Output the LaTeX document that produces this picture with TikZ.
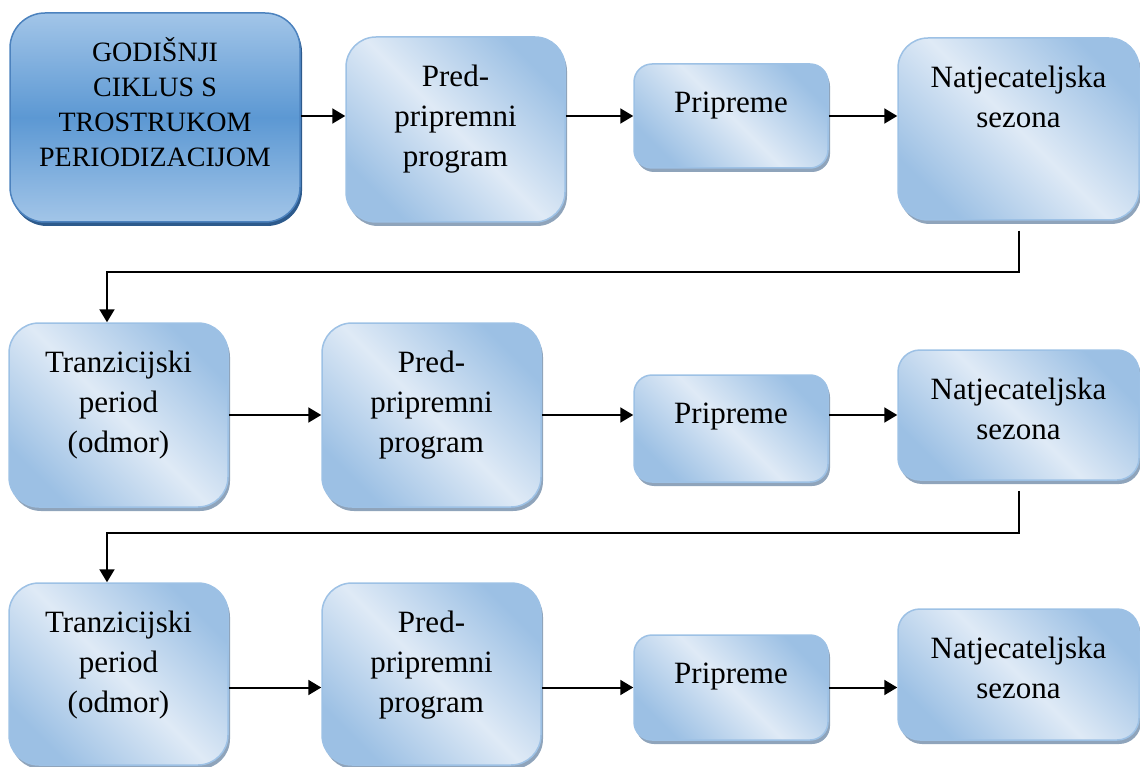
\documentclass[tikz,border=0pt]{standalone}
\usepackage{fontspec}
\setmainfont{Liberation Serif}
\usetikzlibrary{arrows.meta,shadows,positioning,calc}
\definecolor{godtop}{HTML}{A2C5E8}
\definecolor{godmid}{HTML}{5C98D3}
\definecolor{godline}{HTML}{4C82BE}
\definecolor{godshadow}{HTML}{2D5A8C}
\definecolor{phaselight}{HTML}{DFEAF6}
\definecolor{phasedark}{HTML}{9CC0E4}
\definecolor{phaseline}{HTML}{9DC1E5}
\definecolor{phaseshadow}{HTML}{8FA4BB}
\tikzstyle{godbox} = [rectangle, rounded corners=35pt, inner sep=0pt, draw=godline, line width=1.5pt, top color=godtop, bottom color=godtop, middle color=godmid, drop shadow={shadow xshift=2pt, shadow yshift=-4pt, fill=godshadow, opacity=1}]
\tikzstyle{phase} = [rectangle, rounded corners=30pt, inner sep=0pt, draw=phaseline, line width=1.5pt, top color=phasedark, bottom color=phasedark, middle color=phaselight, shading angle=-45, drop shadow={shadow xshift=2pt, shadow yshift=-4pt, fill=phaseshadow, opacity=1}]
\tikzstyle{captext} = [anchor=north, inner sep=0pt, yshift=-25pt, align=center, font=\fontsize{28}{35}\selectfont]
\tikzstyle{phasetext} = [anchor=north, inner sep=0pt, yshift=-28.5pt, align=center, font=\fontsize{31}{40}\selectfont]
\tikzstyle{arrow} = [line width=2pt, -{Triangle[length=13pt,width=15pt]}]
\tikzstyle{link} = [line width=2pt, -{Triangle[length=13pt,width=15pt]}, shorten <=10pt]
\begin{document}
\begin{tikzpicture}[x=1pt, y=-1pt]
\useasboundingbox (0,0) rectangle (1140,767);
\node (god) [godbox, minimum width=290pt, minimum height=209pt, label={[captext]north:{GODIŠNJI\\CIKLUS S\\TROSTRUKOM\\PERIODIZACIJOM}}] at (155,117.5) {};
\node (pre1) [phase, minimum width=219pt, minimum height=185pt, label={[phasetext]north:{Pred-\\pripremni\\program}}] at (455.5,129.5) {};
\node (pri1) [phase, rounded corners=18pt, minimum width=194pt, minimum height=104pt, label={[phasetext]north:{Pripreme}}] at (731,116) {};
\node (nat1) [phase, minimum width=241pt, minimum height=182pt, label={[phasetext]north:{Natjecateljska\\sezona}}] at (1018.5,129) {};

\node (tra2) [phase, minimum width=219pt, minimum height=184pt, label={[phasetext]north:{Tranzicijski\\period\\(odmor)}}] at (118.5,415) {};
\node (pre2) [phase, minimum width=219pt, minimum height=184pt, label={[phasetext]north:{Pred-\\pripremni\\program}}] at (431.5,415) {};
\node (pri2) [phase, rounded corners=18pt, minimum width=194pt, minimum height=107pt, label={[phasetext]north:{Pripreme}}] at (731,428.5) {};
\node (nat2) [phase, rounded corners=22pt, minimum width=241pt, minimum height=130pt, label={[phasetext]north:{Natjecateljska\\sezona}}] at (1018.5,415) {};

\node (tra3) [phase, minimum width=219pt, minimum height=182pt, label={[phasetext]north:{Tranzicijski\\period\\(odmor)}}] at (118.5,674) {};
\node (pre3) [phase, minimum width=219pt, minimum height=182pt, label={[phasetext]north:{Pred-\\pripremni\\program}}] at (431.5,674) {};
\node (pri3) [phase, rounded corners=18pt, minimum width=194pt, minimum height=105pt, label={[phasetext]north:{Pripreme}}] at (731,687.5) {};
\node (nat3) [phase, rounded corners=22pt, minimum width=241pt, minimum height=131pt, label={[phasetext]north:{Natjecateljska\\sezona}}] at (1018.5,674.5) {};

\coordinate (bend1) at (107,272);
\coordinate (bend2) at (107,533);

\draw [arrow] (god.east |- pri1.west) -- (pre1.west |- pri1.west);
\draw [arrow] (pre1.east |- pri1.west) -- (pri1.west);
\draw [arrow] (pri1.east) -- (nat1.west |- pri1.east);
\draw [link] (nat1.south) |- (bend1) -- (bend1 |- tra2.north);

\draw [arrow] (tra2.east) -- (pre2.west |- tra2.east);
\draw [arrow] (pre2.east) -- (pri2.west |- pre2.east);
\draw [arrow] (pri2.east |- tra2.east) -- (nat2.west |- tra2.east);
\draw [link] (nat2.south) |- (bend2) -- (bend2 |- tra3.north);

\draw [arrow] (tra3.east |- pri3.west) -- (pre3.west |- pri3.west);
\draw [arrow] (pre3.east |- pri3.west) -- (pri3.west);
\draw [arrow] (pri3.east) -- (nat3.west |- pri3.east);
\end{tikzpicture}
\end{document}
